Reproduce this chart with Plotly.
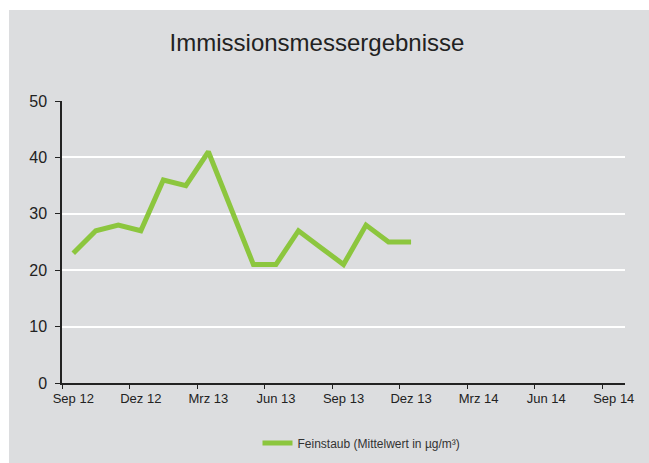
import plotly.graph_objects as go

# monthly readings Sep 2012 .. Dez 2013
months = ["Sep 12", "Okt 12", "Nov 12", "Dez 12", "Jan 13", "Feb 13", "Mrz 13", "Apr 13",
          "Mai 13", "Jun 13", "Jul 13", "Aug 13", "Sep 13", "Okt 13", "Nov 13", "Dez 13"]
feinstaub = [23, 27, 28, 27, 36, 35, 41, 31, 21, 21, 27, 24, 21, 28, 25, 25]

tick_labels = ["Sep 12", "Dez 12", "Mrz 13", "Jun 13", "Sep 13", "Dez 13", "Mrz 14", "Jun 14", "Sep 14"]
n_months = 25  # Sep 12 .. Sep 14

GRAY = "#dcdddf"
FONT = "Liberation Sans, Arial, sans-serif"

W, H = 649, 463
L, R, T, B = 62, 24, 101, 80
pw, ph = W - L - R, H - T - B

fig = go.Figure()
fig.add_trace(go.Scatter(
    x=list(range(len(months))),
    y=feinstaub,
    mode="lines",
    name="Feinstaub (Mittelwert in µg/m³)",
    line=dict(color="#8cc63e", width=5, shape="linear"),
    text=months,
    hovertemplate="%{text}: %{y}<extra></extra>",
))

# gray card behind everything
fig.add_shape(type="rect", xref="paper", yref="paper", layer="below",
              x0=(9 - L) / pw, x1=(649 - L) / pw,
              y0=(H - B - 463) / ph, y1=(H - B - 10) / ph,
              fillcolor=GRAY, line=dict(width=0))

fig.update_layout(
    width=W, height=H,
    margin=dict(l=L, r=R, t=T, b=B, autoexpand=False),
    paper_bgcolor="white",
    plot_bgcolor=GRAY,
    font=dict(family=FONT, color="#222222"),
    title=dict(text="Immissionsmessergebnisse", x=(317 - L) / pw, xref="paper", xanchor="center",
               y=(H - 43) / H, yanchor="middle", font=dict(size=24, color="#222222")),
    showlegend=True,
    legend=dict(orientation="h", x=0.5 + 18 / pw, xanchor="center", y=(383 - 443) / ph,
                yanchor="middle", bgcolor="rgba(0,0,0,0)", font=dict(size=12, color="#333333")),
)

fig.update_xaxes(
    range=[-0.5, n_months - 0.5],
    tickmode="array",
    tickvals=list(range(0, n_months, 3)),
    ticktext=tick_labels,
    ticks="", showgrid=False, zeroline=False,
    showline=True, linecolor="#222222", linewidth=1.5,
    tickfont=dict(size=13, color="#222222"),
    ticklabelstandoff=3,
    automargin=False,
    minor=dict(tickmode="array", tickvals=[v - 0.5 for v in range(0, n_months + 1, 3)],
               ticks="outside", ticklen=4, tickcolor="#222222", showgrid=False),
)
fig.update_yaxes(
    range=[0, 50],
    tickvals=[0, 10, 20, 30, 40, 50],
    ticks="outside", ticklen=5, tickcolor="#222222",
    showline=True, linecolor="#222222", linewidth=1.5,
    showgrid=True, gridcolor="white", gridwidth=2,
    zeroline=False, automargin=False,
    ticklabelstandoff=5,
    tickfont=dict(size=16, color="#222222"),
)

fig.write_html("out.html", config={"displayModeBar": False},
               post_script="document.body.style.margin='0';")
